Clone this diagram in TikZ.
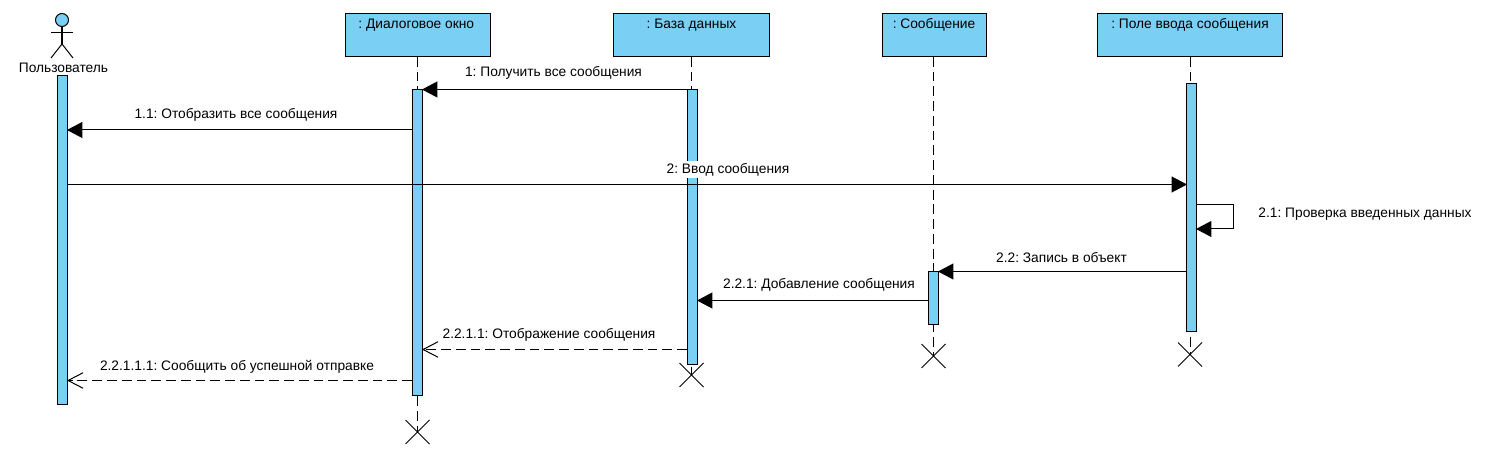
\documentclass[tikz,border=0pt]{standalone}
\usepackage{fontspec}
\setmainfont{Liberation Sans}
\usetikzlibrary{arrows.meta,shapes.misc,backgrounds}
\definecolor{umlblue}{RGB}{122,207,245}
\frenchspacing
\begin{document}
\begin{tikzpicture}[x=0.02cm, y=-0.02cm, font=\fontsize{7.83pt}{9pt}\selectfont, line width=0.57pt,
  obj/.style={draw, fill=umlblue, anchor=north, text height=8pt, text depth=16.1pt, inner ysep=0pt, inner xsep=0pt},
  bar/.style={draw, fill=umlblue, anchor=north, minimum width=0.2cm, inner sep=0pt},
  life/.style={dash pattern=on 5.6pt off 2.8pt},
  kill/.style={cross out, draw, minimum size=0.46cm, inner sep=0pt},
  call/.style={-{Triangle[length=3.1mm, width=3.2mm]}, shorten >=-0.6pt},
  back/.style={dash pattern=on 5.6pt off 2.8pt, -{Straight Barb[length=3mm, width=3.1mm, line width=0.57pt]}, shorten >=-0.6pt},
  msg/.style={inner sep=1pt}]
\useasboundingbox (0,0) rectangle (1508,469);
% actor
\node[draw, fill=umlblue, circle, minimum size=0.26cm, inner sep=0pt] (head) at (62,20) {};
\coordinate (hip) at (62,44);
\draw (head.south) -- (hip);
\draw (51,33) -- (73,33);
\draw (51,58) -- (hip) -- (73,58);
\node[msg] (user) at (63.5,67.5) {Пользователь};
% lifeline heads
\node[obj, minimum width=2.9cm] (dlg) at (418,13.5) {\hspace{-2pt}: Диалоговое окно};
\node[obj, minimum width=3.14cm] (db) at (691.5,13.5) {: База данных};
\node[obj, minimum width=2.08cm] (note) at (934,13.5) {: Сообщение};
\node[obj, minimum width=3.72cm] (field) at (1190,13.5) {: Поле ввода сообщения};
% ends of the lifelines
\node[kill] (dlgx) at (417.5,432) {};
\node[kill] (dbx) at (691.5,375) {};
\node[kill] (notex) at (933.5,356) {};
\node[kill] (fieldx) at (1190,354.5) {};
\foreach \a/\b in {dlg/dlgx, db/dbx, note/notex, field/fieldx}
  \draw[life] (\b |- \a.south) -- (\b.center);
% activation bars
\node[bar, minimum height=6.57cm] (userbar) at (62.5,75.5) {};
\node[bar, minimum height=6.12cm] (dlgbar) at (417.5,89.5) {};
\node[bar, minimum height=5.5cm] (dbbar) at (692.5,89.5) {};
\node[bar, minimum height=1.06cm] (notebar) at (933.5,271.5) {};
\node[bar, minimum height=4.97cm] (fieldbar) at (1191.5,83) {};
% message heights
\foreach \n/\y in {m1/89.5, m11/130, m2/184.5, m21/205, m21b/229, m22/271.5, m221/300.5, m2211/349.5, m22111/380.5}
  \coordinate (\n) at (0,\y);
\coordinate (m21r) at (1233.5,205);
% messages
\draw[call] (dbbar.west |- m1) -- (dlgbar.east |- m1);
\draw[call] (dlgbar.west |- m11) -- (userbar.east |- m11);
\draw[call] (userbar.east |- m2) -- (fieldbar.west |- m2);
\draw[call] (fieldbar.east |- m21) -- (m21r) -- (m21r |- m21b) -- (fieldbar.east |- m21b);
\draw[call] (fieldbar.west |- m22) -- (notebar.east |- m22);
\draw[call] (notebar.west |- m221) -- (dbbar.east |- m221);
\draw[back] (dbbar.west |- m2211) -- (dlgbar.east |- m2211);
\draw[back] (dlgbar.west |- m22111) -- (userbar.east |- m22111);
% labels
\node[msg] (l1) at (553.5,72.5) {1: Получить все сообщения};
\node[msg] (l11) at (236,114.5) {1.1: Отобразить все сообщения};
\node[msg, fill=white] (l2) at (728,169.5) {2: Ввод сообщения};
\node[msg] (l21) at (1365,214.5) {2.1: Проверка введенных данных};
\node[msg] (l22) at (1061.5,257.5) {2.2: Запись в объект};
\node[msg] (l221) at (819,284.5) {2.2.1: Добавление сообщения};
\node[msg] (l2211) at (549,334.5) {2.2.1.1: Отображение сообщения};
\node[msg] (l22111) at (237,366.5) {2.2.1.1.1: Сообщить об успешной отправке};
\end{tikzpicture}
\end{document}
